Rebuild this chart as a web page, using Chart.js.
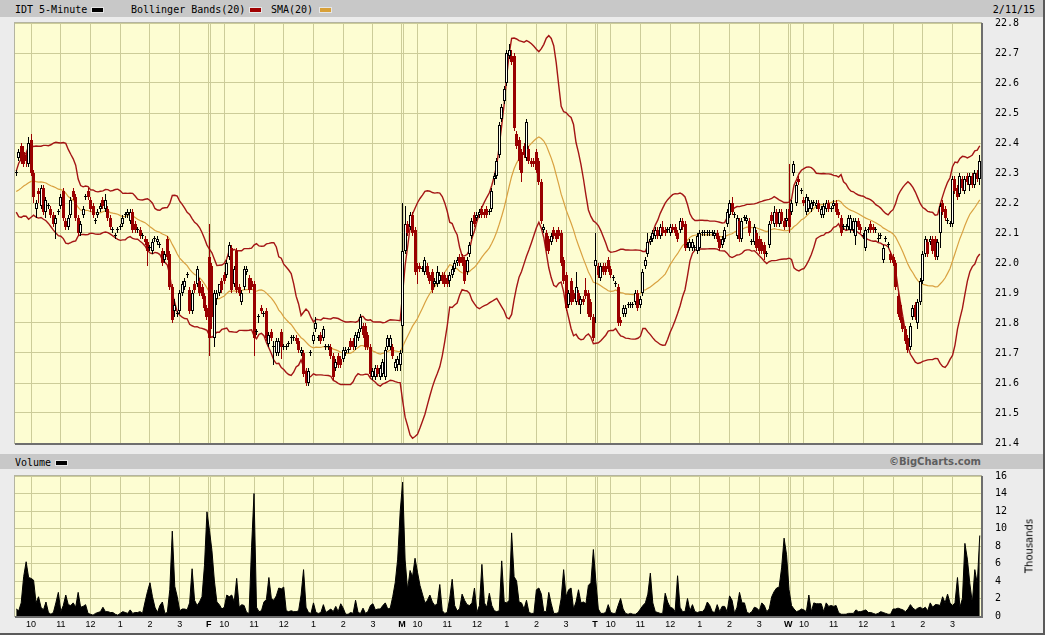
<!DOCTYPE html>
<html>
<head>
<meta charset="utf-8">
<title>IDT 5-Minute</title>
<script src="https://cdn.jsdelivr.net/npm/chart.js@4.4.1/dist/chart.umd.min.js"></script>
<style>
  html, body { margin: 0; padding: 0; }
  body { width: 1045px; height: 635px; position: relative; overflow: hidden; background: #ececec;
         font-family: "DejaVu Sans Mono", monospace; font-size: 10px; color: #000; }
  .strip { position: absolute; left: 0; width: 1045px; background: #c8c8c8; }
  .txt { position: absolute; white-space: nowrap; line-height: 12px; }
  .sw { position: absolute; width: 11px; height: 4px; border: 1px solid #e6e6e6; }
  canvas { position: absolute; left: 0; }
  .edgeR { position: absolute; right: 0; top: 0; width: 2px; height: 635px; background: #5a5a5a; }
  .edgeB { position: absolute; left: 0; bottom: 0; width: 1045px; height: 2px; background: #5a5a5a; }
  #thousands { position: absolute; left: 1029px; top: 546px; transform: translate(-50%, -50%) rotate(-90deg);
               font-family: "DejaVu Sans", sans-serif; font-size: 10px; white-space: nowrap; }
  #copy { right: 64px; font-family: "DejaVu Sans", sans-serif; font-weight: bold; color: #5e5e5e; }
</style>
</head>
<body>
<div class="strip" style="top:0;height:17px"></div>
<div class="txt" style="left:15px;top:4px">IDT 5-Minute</div>
<div class="sw" style="left:91px;top:7px;background:#000"></div>
<div class="txt" style="left:131px;top:4px">Bollinger Bands(20)</div>
<div class="sw" style="left:249px;top:7px;background:#a00000"></div>
<div class="txt" style="left:271px;top:4px">SMA(20)</div>
<div class="sw" style="left:319px;top:7px;background:#d8a038"></div>
<div class="txt" style="right:10px;top:4px">2/11/15</div>

<div class="strip" style="top:454px;height:15px"></div>
<div class="txt" style="left:15px;top:457px">Volume</div>
<div class="sw" style="left:55px;top:460px;background:#000"></div>
<div class="txt" id="copy" style="top:456px">©BigCharts.com</div>

<canvas id="price" width="1045" height="463" style="top:0"></canvas>
<canvas id="volume" width="1045" height="180" style="top:456px"></canvas>
<div id="thousands">Thousands</div>
<div class="edgeR"></div>
<div class="edgeB"></div>

<script>
// prices in cents, one candle per 5 minutes: [open, high, low, close]
const priorCloses = [2226,2222,2219,2224,2228,2221,2218,2225,2227,2223,2220,2226,2229,2224,2219,2222,2227,2225,2221];

const thu = [
  [2230,2231,2229,2230],[2235,2238,2234,2237],[2239,2240,2233,2234],[2237,2239,2232,2233],[2236,2237,2232,2234],
  [2233,2242,2232,2240],[2241,2243,2229,2230],[2230,2231,2220,2222],[2218,2221,2215,2220],[2224,2225,2220,2223],
  [2219,2226,2218,2225],[2225,2226,2216,2217],[2217,2222,2215,2221],[2219,2220,2218,2219],[2218,2219,2215,2216],
  [2216,2217,2212,2213],[2213,2216,2208,2215],[2217,2218,2216,2217],[2219,2223,2218,2222],[2224,2225,2214,2215],
  [2214,2215,2211,2212],[2212,2216,2211,2215],[2216,2222,2215,2221],[2224,2225,2221,2222],[2222,2223,2214,2215],
  [2215,2216,2209,2210],[2210,2214,2209,2213],[2216,2219,2215,2218],[2222,2223,2221,2222],[2224,2225,2221,2222],
  [2221,2222,2217,2218],[2219,2220,2215,2216],[2214,2215,2213,2214],[2216,2218,2215,2217],[2218,2220,2217,2219],
  [2221,2222,2218,2219],[2218,2223,2217,2221],[2218,2219,2214,2215],[2215,2216,2211,2212],[2211,2212,2210,2211],
  [2209,2210,2208,2209],[2211,2212,2210,2211],[2212,2213,2211,2212],[2213,2216,2212,2215],[2216,2217,2215,2216],
  [2216,2218,2215,2217],[2214,2218,2213,2217],[2217,2218,2210,2211],[2213,2214,2210,2211],[2211,2212,2210,2211],
  [2211,2212,2208,2209],[2209,2210,2208,2209],[2208,2209,2206,2207],[2207,2208,2199,2204],[2205,2206,2204,2205],
  [2204,2208,2203,2207],[2208,2209,2207,2208],[2207,2209,2206,2208],[2206,2207,2205,2206],[2204,2205,2199,2200],
  [2201,2204,2200,2203],[2208,2209,2201,2202],[2203,2204,2191,2192],[2192,2193,2180,2181],[2184,2188,2182,2186],
  [2183,2184,2182,2183],[2184,2191,2183,2190],[2190,2194,2189,2193],[2192,2195,2191,2194],[2196,2197,2195,2196],
  [2191,2192,2183,2184],[2184,2191,2183,2190],[2193,2194,2190,2191],[2193,2199,2192,2198],[2194,2195,2189,2190],
  [2192,2193,2188,2189],[2189,2190,2184,2185],[2185,2186,2181,2182]
];
const fri = [
  [2202,2213,2169,2175],[2199,2200,2178,2182],[2175,2191,2172,2190],[2188,2191,2186,2190],[2190,2193,2189,2193],
  [2194,2195,2190,2191],[2196,2197,2193,2194],[2196,2201,2195,2200],[2202,2207,2201,2206],[2205,2206,2190,2191],
  [2193,2199,2192,2198],[2204,2205,2190,2191],[2192,2193,2189,2190],[2187,2191,2186,2190],[2192,2199,2191,2198],
  [2197,2199,2196,2198],[2195,2196,2190,2191],[2194,2195,2191,2192],[2193,2194,2169,2175],[2177,2178,2176,2177],
  [2182,2183,2180,2182],[2185,2186,2183,2184],[2183,2184,2182,2183],[2184,2185,2174,2175],[2173,2177,2172,2176],
  [2177,2178,2174,2175],[2172,2174,2166,2172],[2170,2175,2169,2174],[2170,2175,2169,2174],[2177,2178,2168,2172],
  [2172,2173,2171,2172],[2172,2173,2171,2172],[2173,2174,2172,2173],[2175,2176,2173,2175],[2175,2176,2174,2175],
  [2175,2176,2173,2174],[2174,2175,2170,2171],[2170,2172,2169,2171],[2170,2171,2162,2163],[2164,2165,2159,2160],
  [2160,2165,2159,2164],[2170,2171,2169,2170],[2174,2177,2173,2176],[2178,2182,2177,2180],[2175,2176,2174,2175],
  [2176,2177,2173,2174],[2175,2179,2174,2178],[2172,2173,2171,2172],[2172,2173,2171,2172],[2172,2173,2168,2169],
  [2169,2170,2161,2162],[2165,2168,2164,2167],[2169,2170,2165,2166],[2168,2169,2165,2166],[2168,2172,2167,2171],
  [2170,2172,2169,2171],[2171,2172,2170,2171],[2174,2175,2171,2172],[2174,2175,2171,2172],[2172,2177,2171,2176],
  [2175,2178,2174,2177],[2178,2183,2177,2182],[2179,2180,2175,2176],[2179,2180,2171,2172],[2176,2177,2171,2172],
  [2172,2173,2162,2163],[2162,2165,2161,2164],[2162,2166,2161,2165],[2165,2166,2162,2163],[2162,2166,2161,2165],
  [2163,2168,2162,2167],[2162,2172,2161,2171],[2172,2176,2171,2175],[2172,2176,2171,2175],[2172,2173,2168,2169],
  [2165,2168,2164,2167],[2166,2169,2164,2168],[2166,2171,2164,2170]
];
const mon = [
  [2179,2220,2170,2204],[2204,2219,2203,2213],[2213,2214,2209,2210],[2212,2217,2211,2216],[2216,2217,2209,2210],
  [2211,2212,2196,2197],[2199,2200,2193,2198],[2199,2200,2197,2198],[2198,2199,2197,2198],[2197,2202,2196,2201],
  [2199,2200,2195,2196],[2196,2197,2193,2194],[2197,2198,2190,2191],[2193,2195,2192,2194],[2193,2199,2192,2197],
  [2194,2197,2193,2196],[2196,2197,2193,2194],[2196,2197,2192,2193],[2195,2196,2192,2193],[2194,2197,2192,2196],
  [2196,2199,2195,2198],[2198,2201,2197,2200],[2200,2202,2199,2201],[2202,2203,2199,2200],[2202,2203,2199,2200],
  [2201,2202,2193,2194],[2197,2202,2196,2201],[2203,2207,2202,2206],[2209,2215,2208,2214],[2216,2217,2212,2213],
  [2215,2217,2214,2216],[2216,2218,2215,2217],[2218,2219,2215,2216],[2217,2218,2215,2216],[2218,2219,2215,2216],
  [2217,2218,2216,2217],[2218,2225,2217,2224],[2228,2230,2226,2229],[2229,2235,2228,2234],[2236,2247,2235,2246],
  [2248,2253,2247,2252],[2254,2259,2253,2258],[2260,2271,2259,2270],[2269,2273,2268,2271],[2269,2271,2266,2267],
  [2269,2270,2244,2245],[2243,2244,2238,2239],[2241,2242,2231,2234],[2237,2238,2227,2230],[2239,2240,2235,2236],
  [2235,2248,2234,2247],[2238,2239,2233,2234],[2234,2235,2232,2233],[2234,2235,2232,2233],[2237,2238,2230,2231],
  [2234,2235,2226,2227],[2227,2228,2213,2214],[2211,2213,2210,2212],[2210,2211,2204,2205],[2208,2209,2203,2204],
  [2207,2210,2206,2209],[2211,2212,2208,2209],[2210,2211,2207,2208],[2211,2212,2208,2209],[2210,2211,2199,2200],
  [2201,2202,2193,2194],[2196,2197,2184,2185],[2186,2191,2185,2190],[2194,2195,2186,2187],[2190,2191,2187,2188],
  [2187,2197,2186,2192],[2190,2191,2186,2187],[2186,2189,2183,2188],[2188,2189,2186,2187],[2191,2195,2188,2189],
  [2190,2191,2182,2183],[2187,2188,2181,2182],[2182,2183,2174,2175]
];
const tue = [
  [2199,2210,2180,2201],[2199,2200,2195,2196],[2195,2200,2194,2199],[2199,2200,2196,2197],[2199,2200,2196,2197],
  [2201,2202,2197,2198],[2198,2199,2195,2196],[2195,2196,2194,2195],[2193,2194,2192,2193],[2192,2193,2179,2180],
  [2181,2182,2179,2180],[2183,2186,2182,2185],[2183,2186,2182,2185],[2186,2187,2185,2186],[2186,2187,2185,2186],
  [2186,2187,2185,2186],[2187,2191,2186,2190],[2190,2191,2184,2185],[2186,2189,2185,2188],[2190,2198,2189,2197],
  [2199,2202,2198,2201],[2203,2210,2202,2207],[2207,2209,2206,2208],[2208,2211,2207,2210],[2209,2212,2208,2211],
  [2211,2212,2208,2209],[2209,2213,2208,2212],[2212,2214,2209,2210],[2211,2212,2209,2210],[2211,2212,2210,2211],
  [2210,2213,2209,2212],[2212,2213,2210,2211],[2212,2213,2209,2210],[2210,2211,2207,2208],[2211,2215,2210,2214],
  [2214,2215,2211,2212],[2213,2214,2204,2205],[2206,2207,2205,2206],[2205,2208,2204,2207],[2205,2208,2204,2207],
  [2205,2206,2204,2205],[2204,2210,2203,2209],[2205,2211,2204,2210],[2210,2211,2209,2210],[2210,2211,2209,2210],
  [2210,2211,2209,2210],[2210,2211,2209,2210],[2210,2211,2209,2210],[2209,2211,2208,2210],[2210,2211,2207,2208],
  [2208,2209,2204,2205],[2206,2209,2205,2208],[2208,2212,2207,2211],[2213,2218,2212,2217],[2216,2221,2215,2220],
  [2220,2222,2216,2217],[2216,2217,2215,2216],[2209,2216,2208,2215],[2214,2215,2207,2208],[2208,2215,2207,2214],
  [2215,2216,2214,2215],[2214,2216,2213,2215],[2214,2215,2209,2210],[2207,2208,2206,2207],[2207,2213,2206,2212],
  [2210,2211,2204,2205],[2208,2209,2203,2204],[2207,2208,2203,2204],[2206,2207,2201,2203],[2203,2204,2202,2203],
  [2206,2214,2205,2213],[2216,2217,2213,2214],[2213,2219,2212,2217],[2217,2218,2212,2213],[2213,2218,2212,2217],
  [2217,2218,2213,2214],[2214,2215,2211,2212],[2214,2218,2212,2215]
];
const wed = [
  [2218,2233,2210,2212],[2217,2221,2216,2220],[2230,2234,2229,2233],[2220,2227,2219,2226],[2228,2229,2226,2227],
  [2224,2225,2223,2224],[2221,2222,2219,2220],[2217,2223,2216,2222],[2218,2222,2217,2221],[2218,2221,2217,2220],
  [2220,2221,2219,2220],[2219,2221,2218,2220],[2220,2221,2217,2218],[2216,2219,2215,2218],[2216,2220,2215,2219],
  [2218,2221,2217,2220],[2220,2221,2217,2218],[2218,2219,2217,2218],[2219,2221,2218,2220],[2220,2221,2216,2217],
  [2217,2218,2215,2216],[2215,2216,2209,2210],[2212,2213,2211,2212],[2212,2213,2211,2212],[2212,2216,2211,2215],
  [2211,2216,2210,2215],[2211,2215,2210,2214],[2209,2215,2206,2214],[2214,2215,2211,2212],[2212,2213,2210,2211],
  [2209,2210,2208,2209],[2205,2212,2204,2211],[2211,2212,2210,2211],[2213,2214,2210,2211],[2212,2213,2210,2211],
  [2211,2212,2210,2211],[2208,2210,2207,2208],[2209,2210,2208,2209],[2201,2206,2200,2205],[2208,2209,2207,2208],
  [2206,2207,2205,2206],[2203,2204,2200,2201],[2202,2203,2199,2200],[2200,2201,2191,2192],[2189,2190,2182,2183],
  [2186,2187,2180,2181],[2181,2182,2177,2178],[2178,2179,2173,2174],[2175,2176,2170,2171],[2172,2180,2171,2179],
  [2182,2186,2181,2185],[2186,2187,2181,2182],[2180,2188,2178,2187],[2187,2195,2186,2194],[2194,2204,2193,2203],
  [2203,2209,2202,2208],[2207,2208,2202,2203],[2207,2209,2206,2208],[2208,2209,2203,2204],[2208,2209,2201,2202],
  [2202,2208,2201,2207],[2210,2220,2205,2219],[2220,2221,2216,2217],[2218,2219,2214,2215],[2214,2215,2213,2214],
  [2213,2214,2212,2213],[2213,2229,2212,2228],[2228,2229,2223,2224],[2225,2226,2221,2222],[2223,2230,2222,2229],
  [2228,2229,2224,2225],[2224,2229,2223,2228],[2229,2230,2226,2227],[2226,2230,2224,2229],[2229,2230,2225,2226],
  [2226,2231,2225,2230],[2230,2231,2227,2228],[2228,2236,2226,2234]
];

// volume in thousands of shares, per 5-minute bar
const thuVol = [0.8,0.6,1.5,4.5,6.2,4.4,4.3,4.1,1.5,2.2, 1.0,0.7,1.6,0.4,0.2,0.4,1.5,2.7,0.5,1.2,
  2.4,1.3,1.2,1.5,1.0,2.7,1.0,1.1,1.3,0.3, 0.2,0.1,0.3,0.4,0.5,1.0,0.5,0.5,0.4,0.4,
  0.2,0.1,0.3,0.5,0.4,0.3,0.7,0.3,0.4,0.4, 0.5,0.3,1.6,2.8,3.8,2.2,1.0,0.4,1.2,1.6,
  0.3,0.4,3.0,9.7,3.4,2.2,0.6,0.8,0.8,0.7, 1.5,5.4,1.8,1.2,1.6,2.2,5.8,11.9];
const friVol = [9.8,7.5,4.0,1.6,1.3,0.8,1.0,2.4,2.2,2.4, 1.6,4.3,1.0,1.3,1.2,0.4,0.3,7.8,14.0,1.0,
  0.5,0.6,1.6,1.9,4.4,2.0,1.8,2.3,3.2,3.1, 3.3,0.6,0.5,0.6,0.5,0.5,0.6,2.4,5.3,1.0,
  0.4,0.3,1.5,0.4,0.3,0.4,1.3,0.4,0.6,0.8, 0.5,1.1,0.5,1.4,0.9,0.2,0.2,0.4,0.3,1.8,
  0.4,0.3,0.9,0.3,0.5,1.2,1.4,0.7,0.8,0.8, 1.2,1.5,0.8,0.9,2.2,3.8,6.5,11.9];
const monVol = [15.3,6.4,3.0,5.2,4.5,6.6,5.0,3.5,2.5,1.5, 1.8,2.4,1.6,1.2,1.4,3.6,0.6,0.3,0.4,2.0,
  4.2,1.2,0.6,0.8,2.5,1.8,1.3,1.2,1.5,3.2, 0.4,1.2,5.9,1.5,1.0,2.6,1.2,0.6,0.5,0.6,
  6.3,1.6,1.5,1.8,9.5,4.5,4.0,1.6,1.5,0.8, 1.8,0.4,0.3,0.3,3.0,3.2,2.5,0.5,0.5,2.7,
  1.4,0.3,0.3,0.4,2.0,5.3,2.2,3.0,3.2,0.8, 1.6,3.0,1.5,1.6,1.4,3.5,3.8,7.6];
const tueVol = [4.0,0.8,0.3,0.3,0.4,1.3,0.4,0.3,0.3,1.2, 2.0,0.8,0.3,0.2,0.3,0.2,0.2,0.4,0.8,1.2,
  1.5,2.5,4.9,1.5,0.5,0.4,0.3,0.3,2.6,1.6, 1.0,0.9,0.5,4.6,1.0,0.5,0.5,2.0,0.6,1.3,
  0.5,0.4,0.5,0.5,0.8,1.6,1.2,0.5,0.4,1.3, 0.5,1.1,1.1,0.5,2.3,1.8,0.3,1.0,2.7,1.5,
  1.5,0.4,0.3,0.5,1.0,0.9,0.6,1.5,1.2,0.5, 0.8,2.2,2.8,3.2,3.3,5.5,8.9,7.0];
const wedVol = [3.0,1.2,0.8,0.5,0.6,0.8,0.7,0.5,2.4,0.5, 1.5,1.4,1.4,1.4,0.5,1.5,1.1,1.2,1.1,1.2,
  0.4,0.2,0.2,0.2,0.3,0.3,0.3,0.7,0.5,0.5, 0.6,0.7,0.4,0.4,0.3,0.2,0.3,0.5,0.4,0.3,
  0.2,0.2,0.8,0.8,0.9,0.8,0.7,0.5,0.8,1.3, 0.9,0.7,0.9,1.0,0.8,1.0,0.6,1.5,1.0,1.3,
  1.3,1.2,2.2,1.5,2.5,1.5,1.2,1.5,4.4,1.0, 2.0,8.3,6.5,3.7,1.5,5.3,3.7,9.2];

// axis labels: hour lines sit on the 10:00 ... 3:00 bars of each session
const hourLabels = ['10', '11', '12', '1', '2', '3'];
const hourBars = [6, 18, 30, 42, 54, 66];
const dayLetters = ['', 'F', 'M', 'T', 'W'];
const barsPerDay = 78;

const candles = [thu, fri, mon, tue, wed].flat();
const volumes = [thuVol, friVol, monVol, tueVol, wedVol].flat();

const downColor = '#990000';
const bandColor = '#a31515';
const smaColor = '#d9a140';
const gridColor = '#cccc99';
const mono = '"DejaVu Sans Mono", monospace';

// Bollinger(20, 2) and SMA(20) from the closes
const closes = priorCloses.concat(candles.map(c => c[3])).map(v => v / 100);
const sma = [], upper = [], lower = [];
for (let i = 0; i < candles.length; i++) {
  const w = closes.slice(i, i + 20);
  const m = w.reduce((a, b) => a + b, 0) / 20;
  const sd = Math.sqrt(w.reduce((a, b) => a + (b - m) * (b - m), 0) / 20);
  sma.push({ x: i, y: m });
  upper.push({ x: i, y: m + 2 * sd });
  lower.push({ x: i, y: m - 2 * sd });
}

const isUp = candles.map(c => c[3] >= c[0]);
const wicks = candles.map((c, i) => ({ x: i, y: [c[2] / 100, c[1] / 100] }));
const bodies = candles.map((c, i) => ({ x: i, y: [c[0] / 100, c[3] / 100] }));

// vertical grid: hour lines plus a double line at each session break
const tickList = [];
for (let d = 0; d < 5; d++) {
  if (d > 0) {
    tickList.push({ value: d * barsPerDay - 0.3, label: dayLetters[d] });
    tickList.push({ value: d * barsPerDay + 0.5, label: '' });
  }
  hourBars.forEach((h, j) => tickList.push({ value: d * barsPerDay + h, label: hourLabels[j] }));
}

function xScale(showLabels) {
  return {
    type: 'linear', min: -0.5, max: candles.length - 0.5, offset: false,
    afterBuildTicks: s => { s.ticks = tickList.map(t => ({ value: t.value })); },
    afterFit: s => { s.height = showLabels ? 20 : 0; },
    grid: { color: gridColor, drawTicks: false, offset: false },
    border: { display: false },
    ticks: {
      display: showLabels, autoSkip: false, maxRotation: 0, padding: 3, color: '#000',
      callback: (v, i) => tickList[i] ? tickList[i].label : '',
      font: c => ({ family: '"Liberation Sans", sans-serif', size: 9,
        weight: c.tick && dayLetters.includes(c.tick.label) && c.tick.label ? 'bold' : 'normal' })
    }
  };
}

function yScale(min, max, step, digits) {
  return {
    position: 'right', min, max,
    afterFit: s => { s.width = 64; },
    grid: { color: gridColor, drawTicks: false },
    border: { display: false },
    ticks: { stepSize: step, padding: 14, color: '#000', font: { family: mono, size: 10 },
      callback: v => v.toFixed(digits) }
  };
}

const plotFrame = {
  id: 'plotFrame',
  beforeDraw(chart) {
    const { ctx, chartArea: a } = chart;
    ctx.save();
    ctx.fillStyle = '#fdfdd2';
    ctx.fillRect(a.left, a.top, a.right - a.left, a.bottom - a.top);
    ctx.restore();
  },
  afterDraw(chart) {
    const { ctx, chartArea: a } = chart;
    ctx.save();
    ctx.strokeStyle = '#b4b4a0';
    ctx.lineWidth = 1;
    ctx.strokeRect(a.left - 0.5, a.top - 0.5, a.right - a.left + 1, a.bottom - a.top + 1);
    ctx.strokeStyle = '#6e6e6e';
    ctx.lineWidth = 2;
    ctx.beginPath();
    ctx.moveTo(a.right + 1, a.top);
    ctx.lineTo(a.right + 1, a.bottom + 1);
    ctx.lineTo(a.left, a.bottom + 1);
    ctx.stroke();
    ctx.restore();
  }
};

// keep candle bodies and wicks on whole pixels so they stay crisp
const snapBars = {
  id: 'snapBars',
  afterDatasetsUpdate(chart) {
    chart.getSortedVisibleDatasetMetas().forEach(meta => {
      if (meta.type !== 'bar') return;
      meta.data.forEach(el => {
        el.x = Math.floor(el.x) + 0.5;
        el.y = Math.round(el.y);
        el.base = Math.round(el.base);
        if (el.y === el.base) el.y = el.base - 1;
      });
    });
  }
};

const common = {
  responsive: false, animation: false, events: [],
  plugins: { legend: { display: false }, tooltip: { enabled: false } }
};

new Chart(document.getElementById('price'), {
  type: 'bar',
  data: {
    datasets: [
      { type: 'line', data: upper, borderColor: bandColor, borderWidth: 1.4, pointRadius: 0, order: 3 },
      { type: 'line', data: lower, borderColor: bandColor, borderWidth: 1.4, pointRadius: 0, order: 3 },
      { type: 'line', data: sma, borderColor: smaColor, borderWidth: 1.2, pointRadius: 0, order: 3 },
      { data: wicks, barThickness: 1, grouped: false, inflateAmount: 0, order: 1,
        backgroundColor: isUp.map(u => u ? '#000' : downColor) },
      { data: bodies, barThickness: 3, grouped: false, inflateAmount: 0, minBarLength: 1, order: 0,
        borderSkipped: false,
        backgroundColor: isUp.map(u => u ? '#fffff4' : downColor),
        borderColor: isUp.map(u => u ? '#000' : downColor),
        borderWidth: isUp.map(u => u ? 1 : 0) }
    ]
  },
  options: {
    ...common,
    layout: { padding: { left: 15, top: 23, right: 0, bottom: 0 } },
    scales: { x: xScale(false), y: yScale(21.4, 22.8, 0.1, 1) }
  },
  plugins: [plotFrame, snapBars]
});

new Chart(document.getElementById('volume'), {
  type: 'line',
  data: {
    datasets: [{
      data: volumes.map((v, i) => ({ x: i, y: v })),
      borderColor: '#000', backgroundColor: '#000', borderWidth: 1,
      pointRadius: 0, fill: 'origin', tension: 0
    }]
  },
  options: {
    ...common,
    layout: { padding: { left: 15, top: 0, right: 0, bottom: 0 } },
    scales: { x: xScale(true), y: yScale(0, 16, 2, 0) }
  },
  plugins: [plotFrame]
});
</script>
</body>
</html>
